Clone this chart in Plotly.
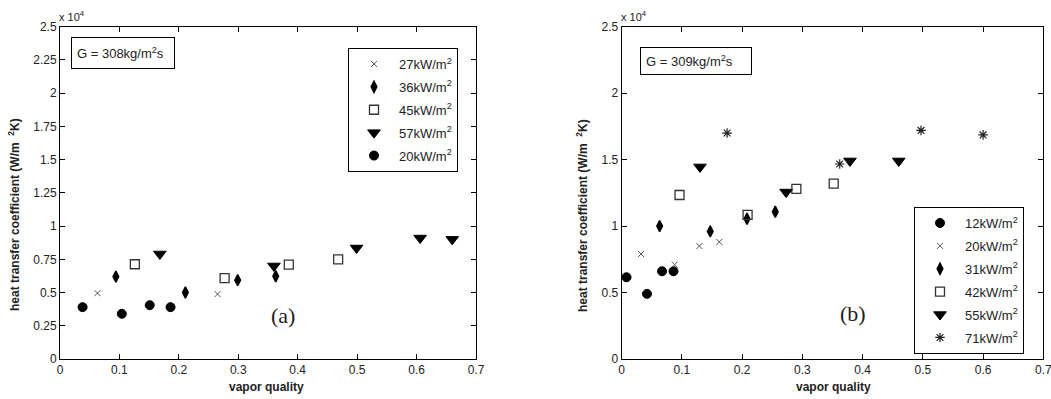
import plotly.graph_objects as go

# ---- Data: panel (a), G = 308 kg/m2s ----
a_27_x = [0.063, 0.265]
a_27_y = [0.495, 0.488]
a_36_x = [0.094, 0.211, 0.299, 0.363]
a_36_y = [0.620, 0.500, 0.593, 0.623]
a_45_x = [0.126, 0.277, 0.385, 0.468]
a_45_y = [0.713, 0.608, 0.710, 0.750]
a_57_x = [0.168, 0.360, 0.499, 0.606, 0.660]
a_57_y = [0.790, 0.700, 0.835, 0.910, 0.900]
a_20_x = [0.038, 0.104, 0.151, 0.186]
a_20_y = [0.390, 0.340, 0.405, 0.390]

# ---- Data: panel (b), G = 309 kg/m2s ----
b_12_x = [0.008, 0.042, 0.067, 0.086]
b_12_y = [0.615, 0.490, 0.660, 0.660]
b_20_x = [0.032, 0.088, 0.129, 0.162]
b_20_y = [0.790, 0.710, 0.850, 0.880]
b_31_x = [0.063, 0.147, 0.208, 0.255]
b_31_y = [1.000, 0.960, 1.055, 1.108]
b_42_x = [0.096, 0.209, 0.290, 0.352]
b_42_y = [1.234, 1.085, 1.280, 1.320]
b_55_x = [0.130, 0.273, 0.379, 0.460]
b_55_y = [1.445, 1.256, 1.490, 1.490]
b_71_x = [0.175, 0.362, 0.497, 0.600]
b_71_y = [1.700, 1.467, 1.720, 1.686]

x_ticks = [0, 0.1, 0.2, 0.3, 0.4, 0.5, 0.6, 0.7]
x_tick_labels = ["0", "0.1", "0.2", "0.3", "0.4", "0.5", "0.6", "0.7"]
ya_ticks = [0, 0.25, 0.5, 0.75, 1, 1.25, 1.5, 1.75, 2, 2.25, 2.5]
ya_tick_labels = ["0", "0.25", "0.5", "0.75", "1", "1.25", "1.5", "1.75", "2", "2.25", "2.5"]
yb_ticks = [0, 0.5, 1, 1.5, 2, 2.5]
yb_tick_labels = ["0", "0.5", "1", "1.5", "2", "2.5"]

FONT = "Liberation Sans, Arial, sans-serif"
TXT = "#222222"
W, H = 1051, 399

fig = go.Figure()

def add(x, y, name, symbol, size, xa, ya, legend, color="black", lw=1, lcolor=None):
    marker = dict(symbol=symbol, size=size, color=color,
                  line=dict(color=lcolor or color, width=lw))
    fig.add_trace(go.Scatter(x=x, y=y, mode="markers", name=name, marker=marker,
                             xaxis=xa, yaxis=ya, legend=legend,
                             legendgroup=legend + name))

sup = "kW/m<sup>2</sup>"
add(a_27_x, a_27_y, "27" + sup, "x-thin-open", 6, "x", "y", "legend", color="#555555")
add(a_36_x, a_36_y, "36" + sup, "diamond-tall", 8, "x", "y", "legend", lw=1.5)
add(a_45_x, a_45_y, "45" + sup, "square-open", 9, "x", "y", "legend", color="#333333", lw=1.3)
add(a_57_x, a_57_y, "57" + sup, "triangle-down", 11, "x", "y", "legend")
add(a_20_x, a_20_y, "20" + sup, "circle", 9, "x", "y", "legend")

add(b_12_x, b_12_y, "12" + sup, "circle", 9, "x2", "y2", "legend2")
add(b_20_x, b_20_y, "20" + sup, "x-thin-open", 6, "x2", "y2", "legend2", color="#555555")
add(b_31_x, b_31_y, "31" + sup, "diamond-tall", 8, "x2", "y2", "legend2", lw=1.5)
add(b_42_x, b_42_y, "42" + sup, "square-open", 9, "x2", "y2", "legend2", color="#333333", lw=1.3)
add(b_55_x, b_55_y, "55" + sup, "triangle-down", 11, "x2", "y2", "legend2")
add(b_71_x, b_71_y, "71" + sup, "asterisk-open", 8, "x2", "y2", "legend2", color="#222222", lw=1.2)

def px(v):  # horizontal pixel -> paper
    return v / W

def py(v):  # vertical pixel (from top) -> paper
    return (H - v) / H

axis_common = dict(showline=True, linecolor="black", linewidth=1, mirror="ticks",
                   ticks="inside", ticklen=5, tickcolor="black", showgrid=False,
                   zeroline=False, automargin=False, ticklabeloverflow="allow",
                   tickfont=dict(family=FONT, size=12, color=TXT))

legend_common = dict(xanchor="left", yanchor="top", bgcolor="white",
                     bordercolor="black", borderwidth=1,
                     font=dict(family=FONT, size=13, color=TXT),
                     itemwidth=40, tracegroupgap=3)

fig.update_layout(
    width=W, height=H, margin=dict(l=0, r=0, t=0, b=0, autoexpand=False),
    paper_bgcolor="white", plot_bgcolor="white", showlegend=True,
    xaxis=dict(domain=[px(60), px(476)], range=[0, 0.7], tickvals=x_ticks,
               ticktext=x_tick_labels, anchor="y", **axis_common),
    yaxis=dict(domain=[py(359), py(26.7)], range=[0, 2.5], tickvals=ya_ticks,
               ticktext=ya_tick_labels, anchor="x", **axis_common),
    xaxis2=dict(domain=[px(621.7), px(1043.3)], range=[0, 0.7], tickvals=x_ticks,
                ticktext=x_tick_labels, anchor="y2", **axis_common),
    yaxis2=dict(domain=[py(359), py(26.7)], range=[0, 2.5], tickvals=yb_ticks,
                ticktext=yb_tick_labels, anchor="x2", **axis_common),
    legend=dict(x=px(348), y=py(48), **legend_common),
    legend2=dict(x=px(914), y=py(207), **legend_common),
)

def ann(x, y, text, size=12, family=FONT, **kw):
    d = dict(x=px(x), y=py(y), text=text, showarrow=False, xref="paper", yref="paper",
             xanchor="center", yanchor="middle",
             font=dict(family=family, size=size, color=TXT))
    d.update(kw)
    return d

annotations = [
    # G boxes
    ann(123, 53, "G = 308kg/m<sup>2</sup>s", 13, bordercolor="black", borderwidth=1,
        borderpad=5, bgcolor="white", width=92, height=20, align="left"),
    ann(696, 61, "G = 309kg/m<sup>2</sup>s", 13, bordercolor="black", borderwidth=1,
        borderpad=5, bgcolor="white", width=100, height=16, align="left"),
    # panel labels
    ann(283, 315, "(a)", 22, "Liberation Serif, Times New Roman, serif"),
    ann(853, 313, "(b)", 22, "Liberation Serif, Times New Roman, serif"),
    # exponent labels
    ann(72, 16, "x 10<sup>4</sup>", 11),
    ann(634, 16, "x 10<sup>4</sup>", 11),
    # x titles
    ann(266, 387, "<b>vapor quality</b>", 12),
    ann(833, 387, "<b>vapor quality</b>", 12),
    # y titles
    ann(14, 215, "<b>heat transfer coefficient (W/m  <sup>2</sup>K)</b>", 12, textangle=-90),
    ann(582, 216, "<b>heat transfer coefficient (W/m  <sup>2</sup>K)</b>", 12, textangle=-90),
]
fig.update_layout(annotations=annotations)

fig.write_html("out.html")
